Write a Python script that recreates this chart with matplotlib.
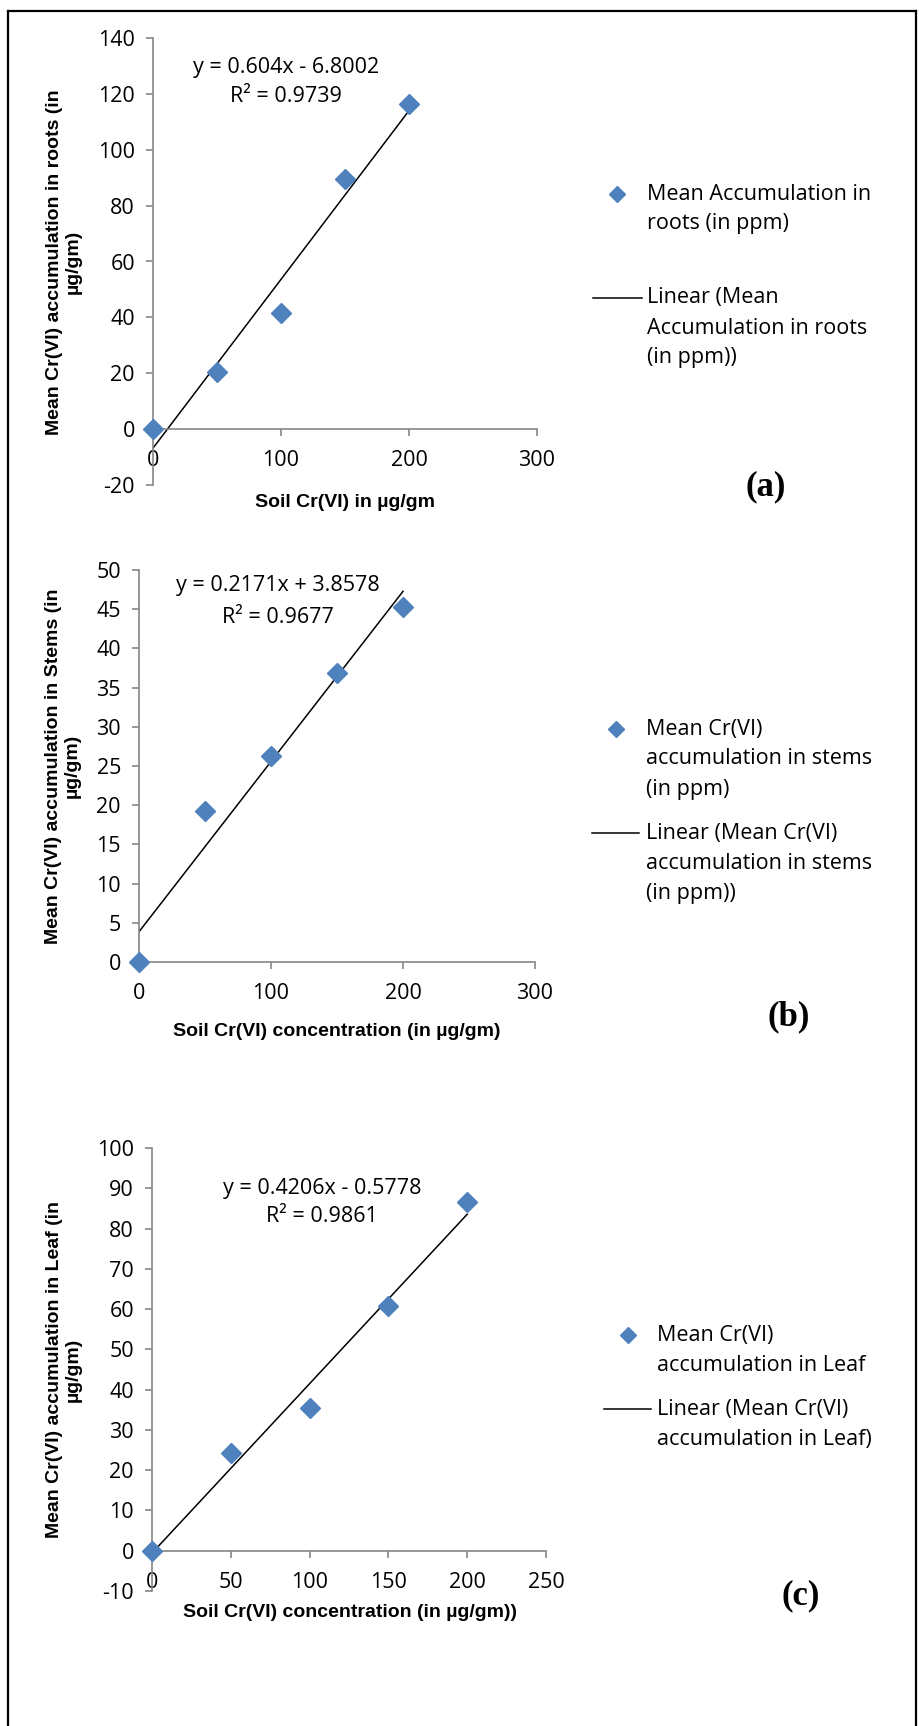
import numpy as np
import matplotlib.pyplot as plt
from matplotlib.lines import Line2D

plt.rcParams['font.family'] = ['Open Sans', 'DejaVu Sans']
plt.rcParams['axes.unicode_minus'] = False

W, H = 919, 1726

# soil Cr(VI) levels and mean accumulation
conc = [0, 50, 100, 150, 200]
roots = [0, 20.3, 41.4, 89.7, 116.5]
stems = [0, 19.2, 26.3, 36.9, 45.3]
leaf = [0, 24.2, 35.5, 60.8, 86.7]

# Excel trendline coefficients: slope, intercept, R^2
fit_roots = (0.604, -6.8002, 0.9739)
fit_stems = (0.2171, 3.8578, 0.9677)
fit_leaf = (0.4206, -0.5778, 0.9861)

BLUE = '#4F81BD'
GRAY = '#868686'
SANS = 'Open Sans'
BOLD = 'Liberation Sans'


def fx(x):
    return x / W


def fy(y):
    return 1 - y / H


def text_lines(lines, x, y0, step, **kw):
    for i, s in enumerate(lines):
        fig.text(fx(x), fy(y0 + i * step), s, va='center', **kw)


def eq_text(m, b, r2):
    sign = '+' if b >= 0 else '-'
    return ['y = %sx %s %s' % (m, sign, abs(b)), 'R² = %s' % r2]


def make_panel(box, y, fit, xlim, xticks, ylim, yticks):
    left, top, right, bottom = box
    ax = fig.add_axes([fx(left), fy(bottom), (right - left) / W, (bottom - top) / H])
    ax.patch.set_alpha(0)
    m, b, r2 = fit
    xs = np.array([min(conc), max(conc)])
    ax.plot(xs, m * xs + b, color='black', linewidth=1.1, zorder=2)
    ax.plot(conc, y, linestyle='none', marker='D', markersize=10,
            color=BLUE, clip_on=False, zorder=3)
    ax.set_xlim(*xlim)
    ax.set_ylim(*ylim)
    ax.set_xticks(xticks)
    ax.set_yticks(yticks)
    for s in ['top', 'right']:
        ax.spines[s].set_visible(False)
    ax.spines['bottom'].set_position(('data', 0))
    for s in ['left', 'bottom']:
        ax.spines[s].set_color(GRAY)
        ax.spines[s].set_linewidth(1.2)
    ax.tick_params(axis='both', direction='out', length=5, width=1.2,
                   color=GRAY, labelsize=15.5)
    ax.tick_params(axis='x', pad=10)
    ax.tick_params(axis='y', pad=8)
    return ax


fig = plt.figure(figsize=(W / 100, H / 100), dpi=100)

# outer frame
for xs, ys in [([8, 8], [11, H]), ([8, 916], [11, 11]), ([916, 916], [11, H])]:
    fig.add_artist(Line2D([fx(v) for v in xs], [fy(v) for v in ys],
                          color='black', linewidth=1.6))

# panel (a)
make_panel((153, 38, 537, 485), roots, fit_roots, (0, 300), [0, 100, 200, 300],
           (-20, 140), np.arange(-20, 141, 20))
text_lines(eq_text(*fit_roots), 286, 68, 29, ha='center', fontsize=15.5)
fig.text(fx(345), fy(502), 'Soil Cr(VI) in µg/gm', ha='center', va='center',
         family=BOLD, weight='bold', fontsize=14)
fig.text(fx(64), fy(262), 'Mean Cr(VI) accumulation in roots (in\nµg/gm)',
         rotation=90, ha='center', va='center', multialignment='center',
         family=BOLD, weight='bold', fontsize=14, linespacing=1.15)

# panel (b)
make_panel((139, 570, 535, 962), stems, fit_stems, (0, 300), [0, 100, 200, 300],
           (0, 50), np.arange(0, 51, 5))
text_lines(eq_text(*fit_stems), 278, 586, 31, ha='center', fontsize=15.5)
fig.text(fx(337), fy(1032), 'Soil Cr(VI) concentration (in µg/gm)', ha='center',
         va='center', family=BOLD, weight='bold', fontsize=14)
fig.text(fx(63), fy(766), 'Mean Cr(VI) accumulation in Stems (in\nµg/gm)',
         rotation=90, ha='center', va='center', multialignment='center',
         family=BOLD, weight='bold', fontsize=14, linespacing=1.15)

# panel (c)
make_panel((152, 1148, 546, 1591), leaf, fit_leaf, (0, 250), np.arange(0, 251, 50),
           (-10, 100), np.arange(-10, 101, 10))
text_lines(eq_text(*fit_leaf), 322, 1188, 29, ha='center', fontsize=15.5)
fig.text(fx(350), fy(1612), 'Soil Cr(VI) concentration (in µg/gm))', ha='center',
         va='center', family=BOLD, weight='bold', fontsize=14)
fig.text(fx(64), fy(1370), 'Mean Cr(VI) accumulation in Leaf (in\nµg/gm)',
         rotation=90, ha='center', va='center', multialignment='center',
         family=BOLD, weight='bold', fontsize=14, linespacing=1.15)

# legends, drawn beside each panel
legends = [
    (617, 194, 593, 642, 298, 647,
     ['Mean Accumulation in', 'roots (in ppm)'],
     ['Linear (Mean', 'Accumulation in roots', '(in ppm))']),
    (616, 729, 592, 639, 833, 646,
     ['Mean Cr(VI)', 'accumulation in stems', '(in ppm)'],
     ['Linear (Mean Cr(VI)', 'accumulation in stems', '(in ppm))']),
    (628, 1335, 604, 651, 1409, 657,
     ['Mean Cr(VI)', 'accumulation in Leaf'],
     ['Linear (Mean Cr(VI)', 'accumulation in Leaf)']),
]
for mx, my, lx0, lx1, ly, tx, lab1, lab2 in legends:
    fig.add_artist(Line2D([fx(mx)], [fy(my)], marker='D', markersize=8.5,
                          color=BLUE, linestyle='none'))
    fig.add_artist(Line2D([fx(lx0), fx(lx1)], [fy(ly), fy(ly)],
                          color='black', linewidth=1.1))
    text_lines(lab1, tx, my, 30, ha='left', fontsize=15.5)
    text_lines(lab2, tx, ly, 30, ha='left', fontsize=15.5)

# panel letters
for lab, x, y in [('(a)', 766, 487), ('(b)', 789, 1017), ('(c)', 801, 1596)]:
    fig.text(fx(x), fy(y), lab, ha='center', va='center',
             family='Liberation Serif', weight='bold', fontsize=25)

fig.savefig('out.png', dpi=100)
